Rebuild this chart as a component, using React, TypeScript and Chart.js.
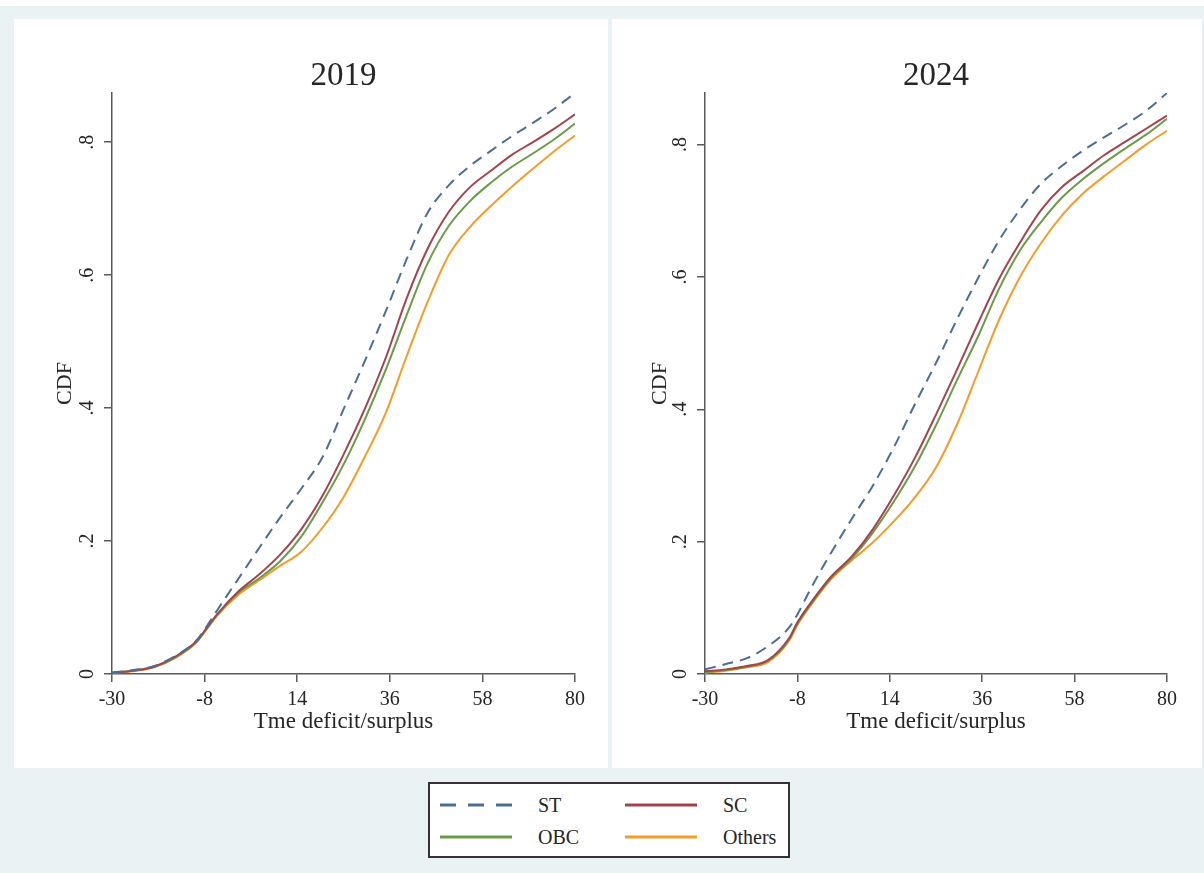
import React, { useEffect, useRef } from "react";
import { Chart, registerables } from "chart.js";

Chart.register(...registerables);

// ---------- data ----------
const xValues = [-30, -25, -20, -15, -10, -8, -5, 0, 5, 10, 15, 20, 25, 30, 35, 40, 45, 50, 55, 60, 65, 70, 75, 80];
const xTicks = [-30, -8, 14, 36, 58, 80];
const yTicks = [0, 0.2, 0.4, 0.6, 0.8];
const yTickLabels = ["0", ".2", ".4", ".6", ".8"];
const seriesNames = ["ST", "SC", "OBC", "Others"];
const panelTitles = ["2019", "2024"];
const xAxisTitle = "Tme deficit/surplus";
const yAxisTitle = "CDF";

const st2019 = [0.002, 0.006, 0.012, 0.027, 0.05, 0.067, 0.096, 0.143, 0.19, 0.236, 0.279, 0.326, 0.398, 0.47, 0.545, 0.624, 0.694, 0.735, 0.764, 0.787, 0.809, 0.829, 0.85, 0.874];
const sc2019 = [0.002, 0.005, 0.011, 0.026, 0.049, 0.065, 0.09, 0.124, 0.15, 0.18, 0.218, 0.268, 0.33, 0.398, 0.475, 0.565, 0.64, 0.695, 0.732, 0.757, 0.781, 0.8, 0.82, 0.842];
const obc2019 = [0.002, 0.005, 0.011, 0.025, 0.048, 0.064, 0.089, 0.122, 0.144, 0.17, 0.207, 0.258, 0.315, 0.382, 0.457, 0.54, 0.618, 0.674, 0.711, 0.739, 0.763, 0.783, 0.804, 0.828];
const others2019 = [0.002, 0.004, 0.01, 0.024, 0.047, 0.063, 0.088, 0.119, 0.141, 0.163, 0.184, 0.22, 0.266, 0.326, 0.392, 0.478, 0.56, 0.63, 0.672, 0.704, 0.733, 0.76, 0.786, 0.81];

const st2024 = [0.007, 0.015, 0.024, 0.042, 0.07, 0.09, 0.127, 0.183, 0.235, 0.285, 0.343, 0.408, 0.47, 0.536, 0.598, 0.655, 0.702, 0.741, 0.768, 0.791, 0.811, 0.83, 0.851, 0.878];
const sc2024 = [0.004, 0.007, 0.012, 0.021, 0.054, 0.078, 0.106, 0.147, 0.178, 0.219, 0.27, 0.327, 0.392, 0.46, 0.53, 0.597, 0.652, 0.701, 0.736, 0.76, 0.784, 0.804, 0.824, 0.844];
const obc2024 = [0.003, 0.006, 0.011, 0.02, 0.052, 0.076, 0.104, 0.145, 0.175, 0.214, 0.261, 0.314, 0.376, 0.444, 0.51, 0.582, 0.64, 0.683, 0.72, 0.748, 0.772, 0.794, 0.815, 0.839];
const others2024 = [0.002, 0.005, 0.01, 0.018, 0.05, 0.074, 0.102, 0.143, 0.172, 0.199, 0.231, 0.267, 0.312, 0.377, 0.456, 0.535, 0.6, 0.651, 0.693, 0.726, 0.752, 0.776, 0.8, 0.821];

const yMax2019 = 0.874;
const yMax2024 = 0.878;

// ---------- styles ----------
const FONT = "'Liberation Serif', 'Times New Roman', serif";
const TEXT = "#262626";
const AXIS = "#5a5a5a";
const BG = "#eaf2f3";
const COLORS: Record<string, string> = {
  ST: "#4a6e96",
  SC: "#a3444d",
  OBC: "#6b9a48",
  Others: "#f39c2a",
};
const DASH: Record<string, number[]> = { ST: [11, 7], SC: [], OBC: [], Others: [] };

type PanelProps = {
  title: string;
  series: number[][];
  yMax: number;
  width: number;
  height: number;
  axisWidth: number;
  rightPad: number;
  yTitlePad: number;
};

function Panel({ title, series, yMax, width, height, axisWidth, rightPad, yTitlePad }: PanelProps) {
  const ref = useRef<HTMLCanvasElement | null>(null);
  useEffect(() => {
    if (!ref.current) return;
    const chart = new Chart(ref.current, {
      type: "line",
      data: {
        datasets: seriesNames.map((name, k) => ({
          label: name,
          data: xValues.map((x, i) => ({ x, y: series[k][i] })),
          borderColor: COLORS[name],
          backgroundColor: COLORS[name],
          borderWidth: 2,
          borderDash: DASH[name],
          pointRadius: 0,
          fill: false,
          cubicInterpolationMode: "monotone",
        })),
      },
      options: {
        responsive: false,
        animation: false,
        devicePixelRatio: 1,
        events: [],
        layout: { padding: { left: 0, right: rightPad, top: 0, bottom: 0 } },
        plugins: {
          legend: { display: false },
          tooltip: { enabled: false },
          title: {
            display: true,
            text: title,
            fullSize: false,
            color: TEXT,
            font: { family: FONT, size: 33, weight: "normal", lineHeight: 1 },
            padding: { top: 41, bottom: 0 },
          },
        },
        scales: {
          x: {
            type: "linear",
            min: -30,
            max: 80,
            afterBuildTicks: (axis: any) => {
              axis.ticks = xTicks.map((v) => ({ value: v }));
            },
            afterFit: (s: any) => {
              s.height = 94;
            },
            grid: { drawOnChartArea: false, drawTicks: true, tickLength: 8, color: AXIS, lineWidth: 1.5 },
            border: { display: true, color: AXIS, width: 1.5 },
            ticks: {
              autoSkip: false,
              maxRotation: 0,
              minRotation: 0,
              padding: 6,
              color: TEXT,
              font: { family: FONT, size: 20 },
              callback: (v: any) => String(v),
            },
            title: {
              display: true,
              text: xAxisTitle,
              color: TEXT,
              font: { family: FONT, size: 23 },
              padding: { top: 0, bottom: 32 },
            },
          },
          y: {
            type: "linear",
            min: 0,
            max: yMax,
            afterBuildTicks: (axis: any) => {
              axis.ticks = yTicks.map((v) => ({ value: v }));
            },
            afterFit: (s: any) => {
              s.width = axisWidth;
            },
            grid: { drawOnChartArea: false, drawTicks: true, tickLength: 8, color: AXIS, lineWidth: 1.5 },
            border: { display: true, color: AXIS, width: 1.5 },
            ticks: {
              autoSkip: false,
              minRotation: 90,
              maxRotation: 90,
              crossAlign: "center",
              padding: 8.5,
              color: TEXT,
              font: { family: FONT, size: 20 },
              callback: (_v: any, i: number) => yTickLabels[i],
            },
            title: {
              display: true,
              text: yAxisTitle,
              color: TEXT,
              font: { family: FONT, size: 22 },
              padding: { top: yTitlePad, bottom: 0 },
            },
          },
        },
      } as any,
    });
    return () => chart.destroy();
  }, []);
  return <canvas ref={ref} width={width} height={height} style={{ display: "block", width, height }} />;
}

function LegendSample({ name, left, top }: { name: string; left: number; top: number }) {
  return (
    <svg
      width={74}
      height={6}
      style={{ position: "absolute", left, top: top - 3, overflow: "visible" }}
    >
      <line
        x1={0}
        y1={3}
        x2={72}
        y2={3}
        stroke={COLORS[name]}
        strokeWidth={3}
        strokeDasharray={name === "ST" ? "16 12" : undefined}
      />
    </svg>
  );
}

function LegendText({ text, left, top }: { text: string; left: number; top: number }) {
  return (
    <span
      style={{
        position: "absolute",
        left,
        top,
        transform: "translateY(-50%)",
        fontFamily: FONT,
        fontSize: 20,
        lineHeight: "22px",
        color: TEXT,
        whiteSpace: "nowrap",
      }}
    >
      {text}
    </span>
  );
}

export default function App() {
  return (
    <div
      style={{
        position: "absolute",
        left: 0,
        top: 0,
        width: 1204,
        height: 873,
        background: BG,
        overflow: "hidden",
      }}
    >
      <div style={{ position: "absolute", left: 0, top: 0, width: 1204, height: 6, background: "#ffffff" }} />
      <div style={{ position: "absolute", left: 14, top: 19, width: 594, height: 749, background: "#ffffff" }}>
        <Panel
          title={panelTitles[0]}
          series={[st2019, sc2019, obc2019, others2019]}
          yMax={yMax2019}
          width={594}
          height={749}
          axisWidth={98}
          rightPad={33}
          yTitlePad={37.8}
        />
      </div>
      <div style={{ position: "absolute", left: 612, top: 19, width: 590, height: 749, background: "#ffffff" }}>
        <Panel
          title={panelTitles[1]}
          series={[st2024, sc2024, obc2024, others2024]}
          yMax={yMax2024}
          width={590}
          height={749}
          axisWidth={93}
          rightPad={35}
          yTitlePad={34.8}
        />
      </div>
      <div
        style={{
          position: "absolute",
          left: 428,
          top: 782,
          width: 362,
          height: 76,
          boxSizing: "border-box",
          border: "2px solid #333333",
          background: "#ffffff",
        }}
      >
        <LegendSample name={seriesNames[0]} left={10} top={21} />
        <LegendText text={seriesNames[0]} left={108} top={21} />
        <LegendSample name={seriesNames[1]} left={195} top={21} />
        <LegendText text={seriesNames[1]} left={293} top={21} />
        <LegendSample name={seriesNames[2]} left={10} top={53} />
        <LegendText text={seriesNames[2]} left={108} top={53} />
        <LegendSample name={seriesNames[3]} left={195} top={53} />
        <LegendText text={seriesNames[3]} left={293} top={53} />
      </div>
    </div>
  );
}
